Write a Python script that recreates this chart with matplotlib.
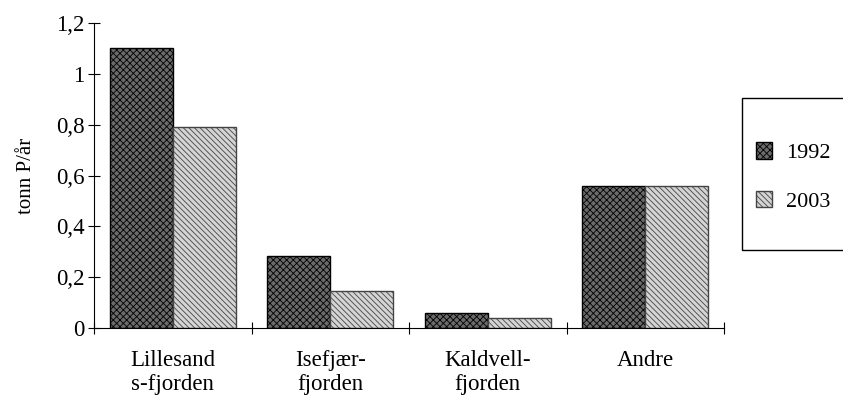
import numpy as np
import matplotlib.pyplot as plt
from matplotlib.patches import Rectangle
from matplotlib.ticker import FixedLocator, FuncFormatter

plt.rcParams['font.family'] = ['Liberation Serif', 'DejaVu Serif']
plt.rcParams['hatch.linewidth'] = 0.6

# Fosforbelastning per område
categories = ["Lillesand\ns-fjorden", "Isefjær-\nfjorden", "Kaldvell-\nfjorden", "Andre"]
values_1992 = [1.10, 0.283, 0.059, 0.56]
values_2003 = [0.79, 0.146, 0.039, 0.56]
yticks = [0, 0.2, 0.4, 0.6, 0.8, 1.0, 1.2]

fig = plt.figure(figsize=(8.43, 4.05), dpi=100)
ax = fig.add_axes([94/843, 1 - 328/405, (724 - 94)/843, (328 - 23)/405])

x = np.arange(len(categories))
w = 0.4
ax.bar(x - w/2, values_1992, w, facecolor='#6a6a6a', edgecolor='black',
       hatch='xxxxx', linewidth=1, label='1992')
ax.bar(x + w/2, values_2003, w, facecolor='#d4d4d4', edgecolor='#444444',
       hatch='\\\\\\\\\\\\', linewidth=1, label='2003')

ax.set_xlim(-0.5, len(categories) - 0.5)
ax.set_ylim(0, 1.2)
ax.spines['top'].set_visible(False)
ax.spines['right'].set_visible(False)

ax.set_yticks(yticks)
ax.yaxis.set_major_formatter(FuncFormatter(lambda v, p: ('%g' % round(v, 1)).replace('.', ',')))
ax.tick_params(axis='y', direction='inout', length=8, labelsize=16.5, pad=3)

# ticks at category boundaries, labels at centres
ax.xaxis.set_major_locator(FixedLocator(np.arange(-0.5, len(categories), 1.0)))
ax.xaxis.set_major_formatter(FuncFormatter(lambda v, p: ''))
ax.xaxis.set_minor_locator(FixedLocator(x))
ax.set_xticklabels(categories, minor=True, linespacing=1.15)
ax.tick_params(axis='x', which='major', direction='inout', length=8)
ax.tick_params(axis='x', which='minor', length=0, labelsize=16.5, pad=16)

ax.set_ylabel('tonn P/år', fontsize=15, labelpad=14)

# legend with a separate, taller frame
leg = ax.legend(loc='center left', bbox_to_anchor=(738/843, 1 - 177/405),
                bbox_transform=fig.transFigure, fontsize=16, frameon=False,
                handlelength=0.75, handleheight=0.75, labelspacing=1.25,
                borderpad=0.3, handletextpad=0.6)
fig.patches.append(Rectangle((742/843, 1 - 250/405), 0.2, 152/405,
                             transform=fig.transFigure, fill=False,
                             edgecolor='black', linewidth=1))

fig.savefig('out.png', dpi=100)
